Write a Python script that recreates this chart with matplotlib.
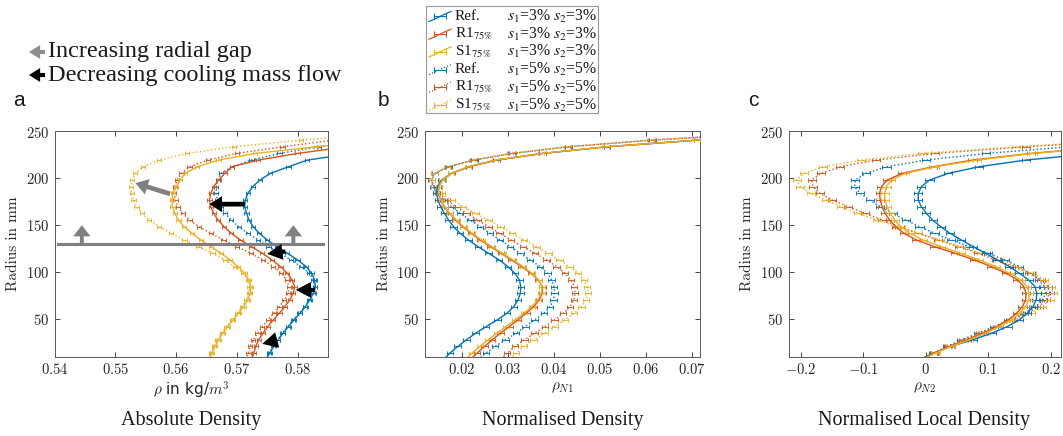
import numpy as np
import matplotlib
matplotlib.use("Agg")
import matplotlib.pyplot as plt
from matplotlib.ticker import FuncFormatter, FixedLocator
from matplotlib.patches import Rectangle

# ---------------- data ----------------
R = [6.5, 13.6, 20.7, 27.8, 34.9, 42.0, 49.1, 56.2, 63.3, 70.4, 77.5, 84.6,
     91.7, 98.8, 105.9, 113.0, 120.1, 127.2, 134.3, 141.4, 148.5, 155.6,
     162.7, 169.8, 176.9, 184.0, 191.1, 198.2, 205.3, 212.4, 219.5, 226.6,
     233.7, 240.8, 247.9]

# panel a: absolute density
A_REF3 = [0.5748, 0.5754, 0.5761, 0.5768, 0.5776, 0.5785, 0.5794, 0.5804, 0.5813, 0.5820,
          0.5826, 0.5829, 0.5828, 0.5823, 0.5814, 0.5800, 0.5783, 0.5766, 0.5750, 0.5737,
          0.5727, 0.5720, 0.5716, 0.5713, 0.5714, 0.5718, 0.5726, 0.5738, 0.5755, 0.5785,
          0.5816, 0.5890, 0.5990, 0.6100, 0.6250]
A_R3 = [0.5724, 0.5728, 0.5731, 0.5736, 0.5743, 0.5751, 0.5760, 0.5770, 0.5779, 0.5787,
        0.5793, 0.5795, 0.5791, 0.5783, 0.5772, 0.5758, 0.5742, 0.5724, 0.5706, 0.5691,
        0.5679, 0.5669, 0.5662, 0.5657, 0.5655, 0.5657, 0.5662, 0.5670, 0.5680, 0.5692,
        0.5735, 0.5800, 0.5880, 0.5980, 0.6100]
A_S3 = [0.5655, 0.5659, 0.5664, 0.5670, 0.5677, 0.5685, 0.5694, 0.5703, 0.5711, 0.5718,
        0.5722, 0.5723, 0.5720, 0.5713, 0.5702, 0.5689, 0.5674, 0.5657, 0.5641, 0.5626,
        0.5613, 0.5604, 0.5598, 0.5594, 0.5593, 0.5595, 0.5600, 0.5607, 0.5615, 0.5635,
        0.5670, 0.5730, 0.5830, 0.5950, 0.6080]
A_REF5 = [0.5747, 0.5753, 0.5760, 0.5767, 0.5775, 0.5784, 0.5793, 0.5803, 0.5812, 0.5819,
          0.5825, 0.5828, 0.5826, 0.5819, 0.5806, 0.5789, 0.5771, 0.5752, 0.5735, 0.5718,
          0.5703, 0.5691, 0.5681, 0.5673, 0.5668, 0.5666, 0.5666, 0.5669, 0.5674, 0.5692,
          0.5724, 0.5770, 0.5835, 0.5920, 0.6020]
A_R5 = [0.5715, 0.5719, 0.5722, 0.5727, 0.5734, 0.5742, 0.5751, 0.5761, 0.5770, 0.5778,
        0.5784, 0.5786, 0.5782, 0.5773, 0.5760, 0.5743, 0.5723, 0.5700, 0.5678, 0.5657,
        0.5638, 0.5622, 0.5611, 0.5603, 0.5599, 0.5597, 0.5598, 0.5602, 0.5609, 0.5622,
        0.5652, 0.5700, 0.5775, 0.5860, 0.5980]
A_S5 = [0.5653, 0.5657, 0.5662, 0.5668, 0.5675, 0.5683, 0.5692, 0.5701, 0.5709, 0.5716,
        0.5720, 0.5721, 0.5718, 0.5710, 0.5697, 0.5680, 0.5660, 0.5637, 0.5614, 0.5592,
        0.5572, 0.5556, 0.5544, 0.5535, 0.5530, 0.5527, 0.5526, 0.5528, 0.5533, 0.5546,
        0.5572, 0.5618, 0.5695, 0.5805, 0.5950]

# panel b: normalised density
B_REF3 = [0.0160, 0.0174, 0.0191, 0.0210, 0.0230, 0.0253, 0.0277, 0.0298, 0.0313, 0.0322,
          0.0327, 0.0328, 0.0325, 0.0315, 0.0300, 0.0281, 0.0258, 0.0235, 0.0214, 0.0196,
          0.0182, 0.0171, 0.0162, 0.0154, 0.0148, 0.0145, 0.0147, 0.0156, 0.0177, 0.0215,
          0.0275, 0.0375, 0.0515, 0.0712, 0.0950]
B_R3 = [0.0218, 0.0233, 0.0249, 0.0266, 0.0284, 0.0303, 0.0322, 0.0340, 0.0356, 0.0368,
        0.0375, 0.0375, 0.0366, 0.0350, 0.0330, 0.0308, 0.0285, 0.0262, 0.0240, 0.0220,
        0.0202, 0.0186, 0.0173, 0.0162, 0.0154, 0.0149, 0.0150, 0.0158, 0.0178, 0.0215,
        0.0275, 0.0375, 0.0515, 0.0712, 0.0950]
B_S3 = [0.0207, 0.0222, 0.0239, 0.0257, 0.0276, 0.0296, 0.0316, 0.0335, 0.0352, 0.0365,
        0.0373, 0.0374, 0.0367, 0.0352, 0.0333, 0.0311, 0.0288, 0.0265, 0.0243, 0.0222,
        0.0204, 0.0188, 0.0174, 0.0163, 0.0155, 0.0150, 0.0150, 0.0158, 0.0177, 0.0213,
        0.0272, 0.0372, 0.0512, 0.0710, 0.0950]
B_REF5 = [0.0235, 0.0252, 0.0272, 0.0295, 0.0318, 0.0338, 0.0358, 0.0378, 0.0392, 0.0399,
          0.0401, 0.0400, 0.0395, 0.0386, 0.0370, 0.0348, 0.0327, 0.0305, 0.0283, 0.0261,
          0.0240, 0.0218, 0.0196, 0.0178, 0.0160, 0.0145, 0.0137, 0.0134, 0.0142, 0.0172,
          0.0227, 0.0310, 0.0432, 0.0614, 0.0850]
B_R5 = [0.0285, 0.0298, 0.0315, 0.0336, 0.0358, 0.0380, 0.0401, 0.0420, 0.0435, 0.0443,
        0.0446, 0.0444, 0.0437, 0.0424, 0.0406, 0.0384, 0.0359, 0.0333, 0.0307, 0.0282,
        0.0258, 0.0234, 0.0210, 0.0188, 0.0167, 0.0150, 0.0139, 0.0134, 0.0141, 0.0170,
        0.0225, 0.0308, 0.0430, 0.0612, 0.0850]
B_S5 = [0.0305, 0.0318, 0.0335, 0.0356, 0.0379, 0.0402, 0.0424, 0.0444, 0.0460, 0.0470,
        0.0474, 0.0472, 0.0465, 0.0452, 0.0434, 0.0412, 0.0388, 0.0362, 0.0335, 0.0309,
        0.0284, 0.0258, 0.0230, 0.0203, 0.0178, 0.0156, 0.0141, 0.0135, 0.0141, 0.0168,
        0.0222, 0.0305, 0.0428, 0.0610, 0.0850]

# panel c: normalised local density
C_REF3 = [-0.010, 0.012, 0.040, 0.075, 0.106, 0.131, 0.150, 0.163, 0.172, 0.177,
          0.178, 0.175, 0.165, 0.150, 0.134, 0.115, 0.096, 0.076, 0.057, 0.039,
          0.024, 0.011, 0.001, -0.007, -0.012, -0.012, -0.007, 0.006, 0.036, 0.085,
          0.160, 0.270, 0.400, 0.550, 0.700]
C_R3 = [-0.008, 0.013, 0.038, 0.066, 0.092, 0.114, 0.132, 0.146, 0.155, 0.160,
        0.161, 0.157, 0.147, 0.129, 0.105, 0.078, 0.047, 0.014, -0.015, -0.035,
        -0.048, -0.058, -0.065, -0.070, -0.073, -0.074, -0.071, -0.062, -0.038, 0.012,
        0.075, 0.168, 0.290, 0.450, 0.620]
C_S3 = [-0.006, 0.015, 0.041, 0.070, 0.096, 0.118, 0.137, 0.151, 0.160, 0.165,
        0.166, 0.162, 0.152, 0.135, 0.112, 0.086, 0.056, 0.025, -0.004, -0.026,
        -0.040, -0.050, -0.057, -0.062, -0.065, -0.066, -0.063, -0.055, -0.033, 0.015,
        0.082, 0.172, 0.300, 0.460, 0.630]
C_REF5 = [-0.008, 0.013, 0.034, 0.057, 0.084, 0.110, 0.135, 0.158, 0.176, 0.188,
          0.192, 0.190, 0.182, 0.168, 0.150, 0.127, 0.100, 0.070, 0.041, 0.014,
          -0.010, -0.032, -0.053, -0.073, -0.090, -0.105, -0.114, -0.113, -0.096, -0.063,
          0.000, 0.097, 0.230, 0.400, 0.580]
C_R5 = [-0.008, 0.014, 0.036, 0.060, 0.087, 0.114, 0.140, 0.163, 0.181, 0.193,
        0.199, 0.196, 0.185, 0.166, 0.141, 0.113, 0.084, 0.053, 0.020, -0.012,
        -0.042, -0.070, -0.097, -0.124, -0.150, -0.170, -0.181, -0.183, -0.168, -0.137,
        -0.080, 0.015, 0.160, 0.330, 0.520]
C_S5 = [-0.006, 0.016, 0.039, 0.064, 0.091, 0.118, 0.145, 0.168, 0.187, 0.199,
        0.204, 0.201, 0.190, 0.171, 0.146, 0.118, 0.088, 0.056, 0.022, -0.012,
        -0.046, -0.078, -0.108, -0.136, -0.160, -0.184, -0.201, -0.207, -0.195, -0.165,
        -0.103, -0.006, 0.145, 0.320, 0.510]

ERR = {"a": 0.00035, "b": 0.0007, "c": 0.0065}

SERIES_NAMES = ["Ref.", r"R1$_{75\%}$", r"S1$_{75\%}$", "Ref.", r"R1$_{75\%}$", r"S1$_{75\%}$"]
SERIES_PARAMS = [r"$s_1$=3% $s_2$=3%"] * 3 + [r"$s_1$=5% $s_2$=5%"] * 3

XLIMS = {"a": (0.54, 0.585), "b": (0.012, 0.0716), "c": (-0.22, 0.216)}
XTICKS = {"a": [0.54, 0.55, 0.56, 0.57, 0.58],
          "b": [0.02, 0.03, 0.04, 0.05, 0.06, 0.07],
          "c": [-0.2, -0.1, 0, 0.1, 0.2]}
YTICKS = [50, 100, 150, 200, 250]
XLABELS = {"a": r"$\rho$ in kg/$m^3$", "b": r"$\rho_{N1}$", "c": r"$\rho_{N2}$"}
TITLES = {"a": "Absolute Density", "b": "Normalised Density", "c": "Normalised Local Density"}

# ---------------- style ----------------
plt.rcParams["mathtext.fontset"] = "cm"
plt.rcParams["axes.formatter.use_mathtext"] = True

W, H = 1063, 436
fig = plt.figure(figsize=(W / 100, H / 100), dpi=100)
fig.patch.set_facecolor("white")

def fx(px):
    return px / W

def fy(py):
    return 1 - py / H

BLUE, RED, YEL = "#0072BD", "#D95319", "#EDB120"
COLORS = [BLUE, RED, YEL, BLUE, RED, YEL]
STYLES = ["-", "-", "-", ":", ":", ":"]

AX_PX = {"a": (54.5, 328.0), "b": (425.0, 699.5), "c": (788.5, 1060.5)}
TOP, BOT = 131.5, 356.5

DATA = {"a": [A_REF3, A_R3, A_S3, A_REF5, A_R5, A_S5],
        "b": [B_REF3, B_R3, B_S3, B_REF5, B_R5, B_S5],
        "c": [C_REF3, C_R3, C_S3, C_REF5, C_R5, C_S5]}


def arrow(ax, xy, xytext, color, hl, hw, tw, ms=10):
    ax.annotate("", xy=xy, xytext=xytext,
                arrowprops=dict(arrowstyle="simple,head_length=%g,head_width=%g,tail_width=%g" % (hl, hw, tw),
                                color=color, lw=0, mutation_scale=ms, shrinkA=0, shrinkB=0),
                zorder=6)


tickfmt = FuncFormatter(lambda v, p: "$%s$" % ("%g" % v))
axes = {}
for key in ["a", "b", "c"]:
    l, r = AX_PX[key]
    ax = fig.add_axes([fx(l), fy(BOT), fx(r - l), (BOT - TOP) / H])
    axes[key] = ax
    order = [3, 4, 5, 0, 1, 2]
    for i in order:
        ax.errorbar(DATA[key][i], R, xerr=ERR[key], fmt=STYLES[i], color=COLORS[i],
                    lw=1.0, elinewidth=0.65, capsize=1.7, capthick=0.65, zorder=3 if i < 3 else 2)
    ax.set_xlim(*XLIMS[key])
    ax.set_ylim(10, 250)
    ax.xaxis.set_major_locator(FixedLocator(XTICKS[key]))
    ax.yaxis.set_major_locator(FixedLocator(YTICKS))
    ax.xaxis.set_major_formatter(tickfmt)
    ax.yaxis.set_major_formatter(tickfmt)
    ax.tick_params(direction="in", top=True, right=True, length=3.5, width=0.6,
                   labelsize=10.5, colors="0.15", pad=4)
    for s in ax.spines.values():
        s.set_color("0.35")
        s.set_linewidth(0.7)
    ax.set_ylabel("Radius in mm", fontsize=11, color="0.15", labelpad=4, family="cmr10")
    ax.set_xlabel(XLABELS[key], fontsize=11, color="0.15", labelpad=2)
    fig.text(fx((l + r) / 2), fy(420), TITLES[key], ha="center", va="center",
             fontsize=14.5, family="Liberation Serif", color="0.1")

# panel letters
for key, px in zip(["a", "b", "c"], [13, 378, 748]):
    fig.text(fx(px), fy(101), key, fontsize=15, family="Liberation Sans", va="center", ha="left", color="0.1")

# annotations in panel a
axa = axes["a"]
axa.plot([0.5405, 0.5842], [130, 130], color="0.5", lw=2.2, zorder=5)
for xv in [0.5445, 0.5793]:
    arrow(axa, (xv, 150), (xv, 130), "0.5", 0.8, 1.25, 0.28)
arrow(axa, (0.5533, 195), (0.5590, 183.5), "0.5", 0.9, 1.15, 0.34)
arrow(axa, (0.5655, 172.5), (0.5713, 172.5), "black", 0.9, 1.15, 0.34)
for (x0, y0, x1, y1) in [(0.5780, 122, 0.5750, 119.5), (0.5829, 81, 0.5797, 81),
                         (0.5766, 27.5, 0.5742, 23.5)]:
    arrow(axa, (x1, y1), (x0, y0), "black", 1.1, 1.15, 0.3)

# overlay axes in pixel coordinates for figure-level annotations
ann = fig.add_axes([0, 0, 1, 1], facecolor="none")
ann.set_xlim(0, W)
ann.set_ylim(H, 0)
ann.axis("off")
arrow(ann, (29, 52), (45, 52), "0.55", 0.8, 1.0, 0.3)
arrow(ann, (29, 75), (45, 75), "black", 0.8, 1.0, 0.3)
ann.text(48, 52, "Increasing radial gap", fontsize=17.5, family="Liberation Serif",
         va="center", ha="left", color="0.1")
ann.text(48, 75, "Decreasing cooling mass flow", fontsize=17.5, family="Liberation Serif",
         va="center", ha="left", color="0.1")

# series legend box (drawn manually)
ann.add_patch(Rectangle((426, 6), 172, 107, facecolor="white", edgecolor="0.6", lw=0.8))
row_y = [16.5, 34.2, 51.9, 69.6, 87.3, 105.0]
for i, yc in enumerate(row_y):
    ls = STYLES[i]
    ann.plot([429, 436, 444, 451], [yc + 5, yc + 2, yc - 2, yc - 5], ls=ls, color=COLORS[i], lw=0.9)
    ann.errorbar([440], [yc], xerr=[6], fmt="none", ecolor=COLORS[i], elinewidth=0.8,
                 capsize=2.2, capthick=0.8)
    ann.text(455, yc, SERIES_NAMES[i], fontsize=11, family="Liberation Serif",
             math_fontfamily="stix", va="center", ha="left", color="0.1")
    ann.text(507, yc, SERIES_PARAMS[i], fontsize=11.3, family="Liberation Serif",
             math_fontfamily="stix", va="center", ha="left", color="0.1")

fig.savefig("out.png", dpi=100, facecolor="white")
